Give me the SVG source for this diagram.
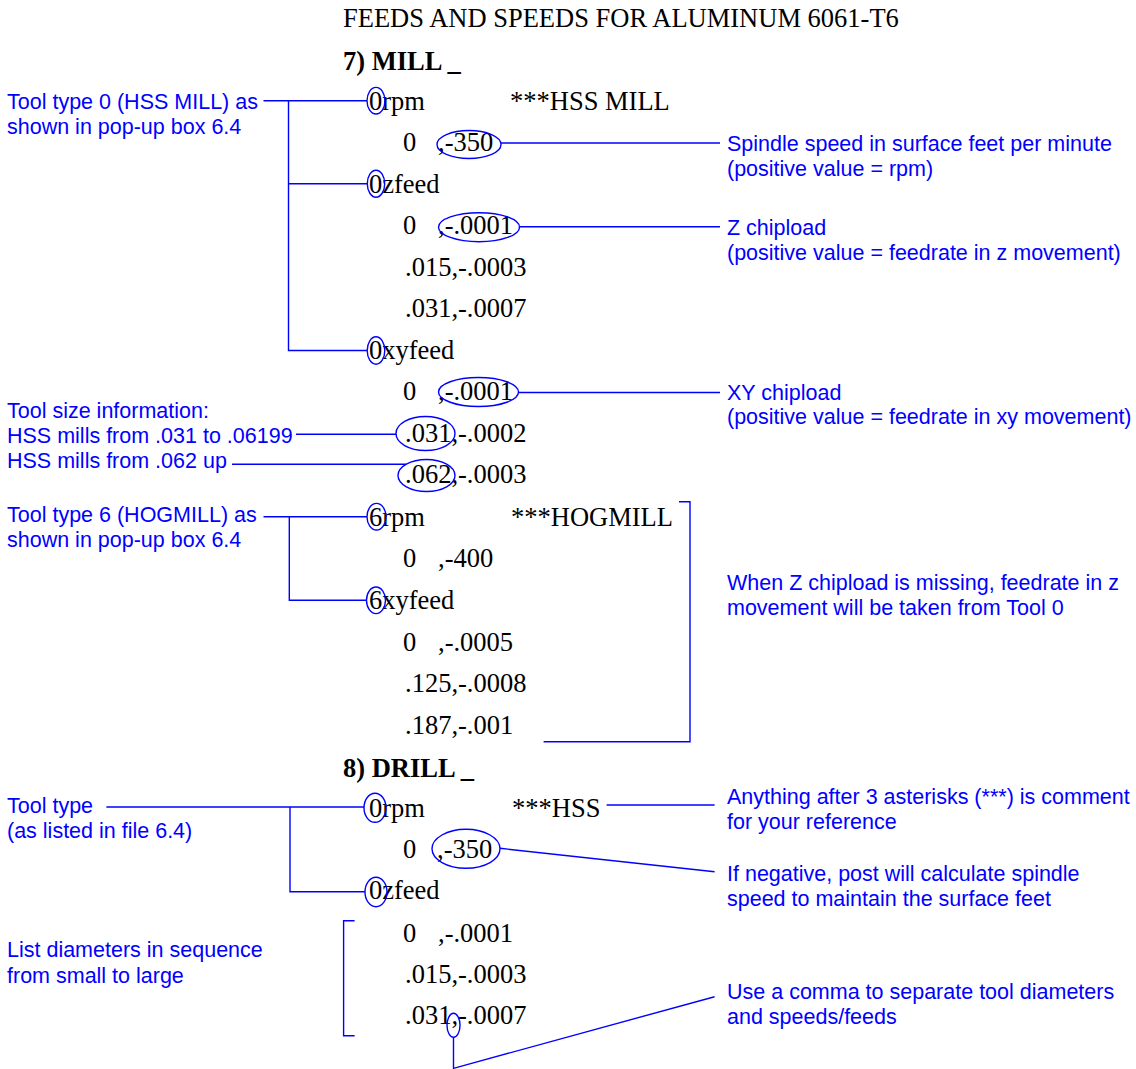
<svg xmlns="http://www.w3.org/2000/svg" width="1136" height="1069" viewBox="0 0 1136 1069">
<style>
.code{font-family:"Liberation Serif","Times New Roman",serif;font-size:26.5px;fill:#000}
.bold{font-weight:bold}
.note{font-family:"Liberation Sans",Arial,sans-serif;font-size:21.5px;fill:#0000ff}
.ln{stroke:#0000ff;stroke-width:1.4;fill:none}
</style>
<rect width="1136" height="1069" fill="#fff"/>

<g id="header">
<text class="code" x="343" y="27">FEEDS AND SPEEDS FOR ALUMINUM 6061-T6</text>
<text class="code bold" x="343" y="70">7) MILL _</text>
<text class="code bold" x="343" y="776.5">8) DRILL _</text>
</g>

<g id="mill-code">
<text class="code" x="369" y="110">0rpm</text>
<text class="code" x="510" y="110">***HSS MILL</text>
<text class="code"><tspan x="403" y="151">0</tspan><tspan x="438" y="151">,-350</tspan></text>
<text class="code" x="369" y="192.5">0zfeed</text>
<text class="code"><tspan x="403" y="234">0</tspan><tspan x="438" y="234">,-.0001</tspan></text>
<text class="code" x="405" y="275.5">.015,-.0003</text>
<text class="code" x="405" y="317">.031,-.0007</text>
<text class="code" x="369" y="358.5">0xyfeed</text>
<text class="code"><tspan x="403" y="400">0</tspan><tspan x="438" y="400">,-.0001</tspan></text>
<text class="code" x="405" y="441.5">.031,-.0002</text>
<text class="code" x="405" y="483">.062,-.0003</text>
<text class="code" x="369" y="526">6rpm</text>
<text class="code" x="511" y="526">***HOGMILL</text>
<text class="code"><tspan x="403" y="567">0</tspan><tspan x="438" y="567">,-400</tspan></text>
<text class="code" x="369" y="609">6xyfeed</text>
<text class="code"><tspan x="403" y="650.5">0</tspan><tspan x="438" y="650.5">,-.0005</tspan></text>
<text class="code" x="405" y="692">.125,-.0008</text>
<text class="code" x="405" y="733.5">.187,-.001</text>
</g>

<g id="drill-code">
<text class="code" x="369" y="816.5">0rpm</text>
<text class="code" x="512" y="816.5">***HSS</text>
<text class="code"><tspan x="403" y="858">0</tspan><tspan x="437" y="858">,-350</tspan></text>
<text class="code" x="369" y="899">0zfeed</text>
<text class="code"><tspan x="403" y="941.5">0</tspan><tspan x="438" y="941.5">,-.0001</tspan></text>
<text class="code" x="405" y="983">.015,-.0003</text>
<text class="code" x="405" y="1024">.031,-.0007</text>
</g>

<g id="left-notes">
<g id="note-tool0"><text class="note" x="7" y="109">Tool type 0 (HSS MILL) as</text><text class="note" x="7" y="134">shown in pop-up box 6.4</text></g>
<g id="note-toolsize"><text class="note" x="7" y="418">Tool size information:</text><text class="note" x="7" y="443">HSS mills from .031 to .06199</text><text class="note" x="7" y="468">HSS mills from .062 up</text></g>
<g id="note-tool6"><text class="note" x="7" y="521.7">Tool type 6 (HOGMILL) as</text><text class="note" x="7" y="546.7">shown in pop-up box 6.4</text></g>
<g id="note-tooltype"><text class="note" x="7" y="813">Tool type</text><text class="note" x="7" y="838">(as listed in file 6.4)</text></g>
<g id="note-list"><text class="note" x="7" y="957">List diameters in sequence</text><text class="note" x="7" y="982.5">from small to large</text></g>
</g>

<g id="right-notes">
<g id="note-spindle"><text class="note" x="727" y="150.5">Spindle speed in surface feet per minute</text><text class="note" x="727" y="175.5">(positive value = rpm)</text></g>
<g id="note-zchip"><text class="note" x="727" y="235">Z chipload</text><text class="note" x="727" y="260">(positive value = feedrate in z movement)</text></g>
<g id="note-xychip"><text class="note" x="727" y="399.5">XY chipload</text><text class="note" x="727" y="424">(positive value = feedrate in xy movement)</text></g>
<g id="note-missing"><text class="note" x="727" y="589.5">When Z chipload is missing, feedrate in z</text><text class="note" x="727" y="615">movement will be taken from Tool 0</text></g>
<g id="note-comment"><text class="note" x="727" y="804">Anything after 3 asterisks (***) is comment</text><text class="note" x="727" y="828.5">for your reference</text></g>
<g id="note-negative"><text class="note" x="727" y="880.5">If negative, post will calculate spindle</text><text class="note" x="727" y="906">speed to maintain the surface feet</text></g>
<g id="note-comma"><text class="note" x="727" y="998.5">Use a comma to separate tool diameters</text><text class="note" x="727" y="1024">and speeds/feeds</text></g>
</g>

<g id="highlights" class="ln">
<ellipse cx="376" cy="100.7" rx="9" ry="13.3"/>
<ellipse cx="469" cy="144.5" rx="32" ry="14"/>
<ellipse cx="376" cy="183.7" rx="8.7" ry="13.5"/>
<ellipse cx="479" cy="227.2" rx="40.5" ry="14.5"/>
<ellipse cx="376" cy="350.5" rx="8.8" ry="13.7"/>
<ellipse cx="478.5" cy="392" rx="40" ry="14.5"/>
<ellipse cx="425.5" cy="433.5" rx="29.5" ry="17"/>
<ellipse cx="426.5" cy="475.5" rx="28.5" ry="16"/>
<ellipse cx="376.5" cy="516.7" rx="9.5" ry="13.3"/>
<ellipse cx="376" cy="600.3" rx="9.5" ry="13.3"/>
<ellipse cx="375" cy="807.8" rx="11" ry="14.5"/>
<ellipse cx="466" cy="848.8" rx="34" ry="19.5"/>
<ellipse cx="376" cy="892" rx="11" ry="14.7"/>
<ellipse cx="453.5" cy="1025.3" rx="6.5" ry="12"/>
</g>

<g id="connectors" class="ln">
<polyline points="263.5,100.7 367,100.7"/>
<polyline points="288.5,100.7 288.5,350.5 367.2,350.5"/>
<polyline points="288.5,183.7 367.3,183.7"/>
<polyline points="501,143 720,143"/>
<polyline points="519.5,226.8 720,226.8"/>
<polyline points="518.5,392.5 720,392.5"/>
<polyline points="296,434.3 396,434.3"/>
<polyline points="232,464.3 406,464.3"/>
<polyline points="263.5,516.7 367,516.7"/>
<polyline points="289.3,516.7 289.3,600.3 366.5,600.3"/>
<polyline points="679,501.7 690,501.7 690,741.7 543.6,741.7"/>
<polyline points="106.4,807 364,807"/>
<polyline points="290,807 290,891.7 365,891.7"/>
<polyline points="606.6,805 714.6,805"/>
<polyline points="500,848.3 714.6,871.7"/>
<polyline points="354.6,920.7 343.6,920.7 343.6,1035.7 354.6,1035.7"/>
<polyline points="453.5,1037.3 453.5,1068.3 714.6,996.7"/>
</g>
</svg>
